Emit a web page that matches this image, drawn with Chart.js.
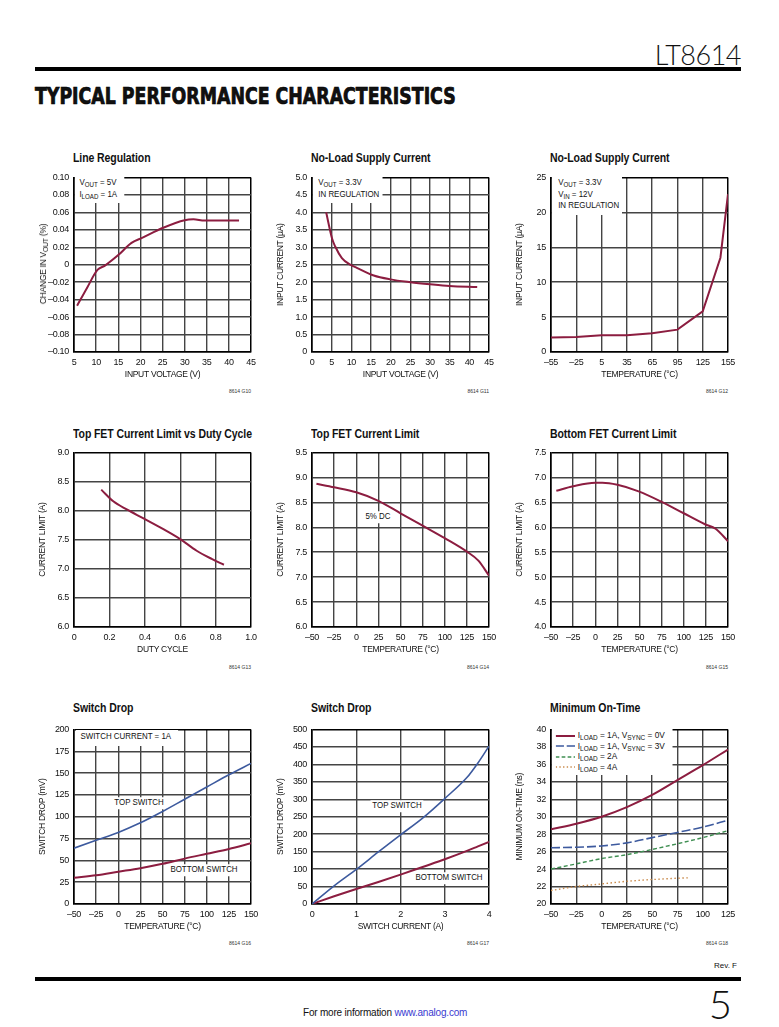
<!DOCTYPE html>
<html>
<head>
<meta charset="utf-8">
<script src="https://cdn.jsdelivr.net/npm/chart.js@4"></script>
<style>
body { margin: 0; background: #fff; }
#page { position: relative; width: 779px; height: 1027px; overflow: hidden; color: #111;
  font-family: "Liberation Sans Narrow", "Liberation Sans", Arial, sans-serif; }
#page canvas { position: absolute; }
.abs { position: absolute; white-space: nowrap; }
.ttl { position: absolute; font-weight: bold; font-size: 12.5px; line-height: 15px; white-space: nowrap;
  transform: scaleX(0.84); transform-origin: 0 0; letter-spacing: -0.1px; }
.note { position: absolute; z-index: 5; font-size: 9px; line-height: 11.5px; background: #fff; white-space: nowrap;
  transform: scaleX(0.88); transform-origin: 0 0; }
.note sub, .ytitle sub { font-size: 7px; vertical-align: -2px; line-height: 0; }
.mid { transform: translate(-50%, -50%) scaleX(0.88); transform-origin: 50% 50%; padding: 0 2px; }
.key { transform: scaleX(0.92); }
.ytitle { position: absolute; z-index: 5; font-size: 8.5px; letter-spacing: -0.3px; white-space: nowrap; transform: translate(-50%, -50%) rotate(-90deg); }
.gid { position: absolute; font-size: 5px; color: #333; text-align: right; width: 40px; }
.rule { position: absolute; left: 35px; width: 706px; height: 4px; background: #000; }
.key svg { vertical-align: middle; margin-right: 3px; }
</style>
</head>
<body>
<div id="page">
  <div class="abs" style="right:38px;top:41px;font-family:Lato,sans-serif;font-weight:300;font-size:27px;line-height:27px;letter-spacing:-0.5px">LT8614</div>
  <div class="rule" style="top:67px"></div>
  <div class="abs" id="heading" style="left:35px;top:83px;font-family:'DejaVu Sans Condensed',sans-serif;font-weight:bold;font-size:23px;line-height:26px;transform-origin:0 0;-webkit-text-stroke:0.7px #000">TYPICAL PERFORMANCE CHARACTERISTICS</div>

  <div class="ttl" style="left:73px;top:151px">Line Regulation</div>
  <div class="ttl" style="left:311px;top:151px">No-Load Supply Current</div>
  <div class="ttl" style="left:550px;top:151px">No-Load Supply Current</div>
  <div class="ttl" style="left:73px;top:427px">Top FET Current Limit vs Duty Cycle</div>
  <div class="ttl" style="left:311px;top:427px">Top FET Current Limit</div>
  <div class="ttl" style="left:550px;top:427px">Bottom FET Current Limit</div>
  <div class="ttl" style="left:73px;top:701px">Switch Drop</div>
  <div class="ttl" style="left:311px;top:701px">Switch Drop</div>
  <div class="ttl" style="left:550px;top:701px">Minimum On-Time</div>

  <div class="ytitle" style="left:43px;top:264px">CHANGE IN V<sub>OUT</sub> (%)</div>

  <div class="note" style="left:75px;top:176px;padding:1px 8px 3px 5px">V<sub>OUT</sub> = 5V<br>I<sub>LOAD</sub> = 1A</div>
  <div class="note" style="left:313px;top:176px;padding:1px 4px 3px 6px">V<sub>OUT</sub> = 3.3V<br>IN REGULATION</div>
  <div class="note" style="left:552px;top:176px;padding:1px 4px 3px 7px">V<sub>OUT</sub> = 3.3V<br>V<sub>IN</sub> = 12V<br>IN REGULATION</div>
  <div class="note mid" style="left:378px;top:517px">5% DC</div>
  <div class="note" style="left:76px;top:730px;padding:1px 8px 3px 5px">SWITCH CURRENT = 1A</div>
  <div class="note mid" style="left:139px;top:803px">TOP SWITCH</div>
  <div class="note mid" style="left:204px;top:870px">BOTTOM SWITCH</div>
  <div class="note mid" style="left:397px;top:806px">TOP SWITCH</div>
  <div class="note mid" style="left:449px;top:878px">BOTTOM SWITCH</div>
  <div class="note key" style="left:552px;top:729px;padding:1px 8px 3px 4px;line-height:10.6px">
    <div><svg width="21" height="6"><line x1="0" y1="3" x2="21" y2="3" stroke="#8c1d40" stroke-width="2"/></svg>I<sub>LOAD</sub> = 1A, V<sub>SYNC</sub> = 0V</div>
    <div><svg width="21" height="6"><line x1="0" y1="3" x2="21" y2="3" stroke="#3d5a9e" stroke-width="1.6" stroke-dasharray="9 3"/></svg>I<sub>LOAD</sub> = 1A, V<sub>SYNC</sub> = 3V</div>
    <div><svg width="21" height="6"><line x1="0" y1="3" x2="21" y2="3" stroke="#3f8f52" stroke-width="1.4" stroke-dasharray="4 2.5"/></svg>I<sub>LOAD</sub> = 2A</div>
    <div><svg width="21" height="6"><line x1="0" y1="3" x2="21" y2="3" stroke="#c98a4b" stroke-width="1.4" stroke-dasharray="1.5 2.5"/></svg>I<sub>LOAD</sub> = 4A</div>
  </div>

  <div class="gid" style="left:211px;top:388px">8614 G10</div>
  <div class="gid" style="left:449px;top:388px">8614 G11</div>
  <div class="gid" style="left:688px;top:388px">8614 G12</div>
  <div class="gid" style="left:211px;top:664px">8614 G13</div>
  <div class="gid" style="left:449px;top:664px">8614 G14</div>
  <div class="gid" style="left:688px;top:664px">8614 G15</div>
  <div class="gid" style="left:211px;top:940px">8614 G16</div>
  <div class="gid" style="left:449px;top:940px">8614 G17</div>
  <div class="gid" style="left:688px;top:940px">8614 G18</div>

  <div class="abs" style="right:42px;top:961px;font-size:8px">Rev. F</div>
  <div class="rule" style="top:977px"></div>
  <div class="abs" style="right:47px;top:984px;font-family:Lato,sans-serif;font-weight:300;font-size:40px;line-height:40px">5</div>
  <div class="abs" style="left:303px;top:1007px;font-size:10px;letter-spacing:-0.2px">For more information <span style="color:#3a3ad0">www.analog.com</span></div>
</div>

<script>
// ---- data ----
// Line Regulation
const lineRegVin = [5.7, 8, 10.3, 12, 15, 18, 20.5, 25, 30, 32, 34.5, 38, 42.3];
const lineRegChange = [-0.047, -0.026, -0.006, -0.001, 0.011, 0.025, 0.031, 0.042, 0.051, 0.052, 0.0505, 0.0505, 0.0505];
// No-Load Supply Current vs input voltage
const noLoadVin = [3.6, 5.1, 5.9, 7.6, 9.7, 11.4, 15.7, 19.9, 25, 30, 35, 42];
const noLoadCurrent = [4.0, 3.25, 3.02, 2.69, 2.5, 2.41, 2.19, 2.08, 2.0, 1.94, 1.89, 1.86];
// No-Load Supply Current vs temperature
const noLoadTemp = [-55, -25, 5, 35, 65, 95, 125, 146, 155];
const noLoadTempCurrent = [2.07, 2.16, 2.4, 2.4, 2.68, 3.2, 5.83, 13.5, 22.6];
// Top FET current limit vs duty cycle
const dutyCycle = [0.154, 0.222, 0.298, 0.39, 0.505, 0.6, 0.693, 0.778, 0.847];
const dutyLimit = [8.36, 8.16, 8.02, 7.87, 7.68, 7.51, 7.31, 7.17, 7.07];
// Top FET current limit vs temperature
const topFetTemp = [-45, -25, 0, 25, 50, 75, 100, 125, 138, 150];
const topFetLimit = [8.87, 8.80, 8.70, 8.53, 8.28, 8.03, 7.78, 7.51, 7.33, 7.03];
// Bottom FET current limit vs temperature
const botFetTemp = [-44, -25, 0, 8, 25, 49, 75, 100, 124, 136, 150];
const botFetLimit = [6.73, 6.82, 6.89, 6.89, 6.85, 6.72, 6.51, 6.28, 6.06, 5.97, 5.72];
// Switch drop vs temperature (1A)
const dropTemp = [-50, -25, 0, 25, 50, 75, 100, 125, 150];
const dropTopTemp = [64, 73, 82, 93, 106, 120, 134, 148, 161];
const dropBotTemp = [30, 33, 37, 41, 46, 52, 57.5, 63, 69.5];
// Switch drop vs switch current
const switchCurrent = [0, 0.5, 1, 1.5, 2, 2.5, 3, 3.5, 3.75, 4];
const dropTopCurrent = [0, 52, 99, 149, 198, 246, 302, 362, 404, 452];
const dropBotCurrent = [0, 22, 43, 63, 84, 106, 128, 152, 165, 178];
// Minimum on-time
const onTimeTemp = [-50, -25, 0, 25, 50, 75, 100, 125];
const onTime1ASync0 = [28.55, 29.2, 30.0, 31.1, 32.5, 34.2, 35.9, 37.7];
const onTime1ASync3 = [26.45, 26.5, 26.65, 27.0, 27.6, 28.2, 28.8, 29.6];
const onTime2A = [24.0, 24.6, 25.2, 25.65, 26.25, 26.9, 27.6, 28.4];
const onTime4ATemp = [-50, -25, 0, 25, 50, 75, 86];
const onTime4A = [21.55, 22.0, 22.3, 22.6, 22.8, 22.95, 23.0];

// ---- tick labels ----
const lineRegXLabels = ['5', '10', '15', '20', '25', '30', '35', '40', '45'];
const lineRegYLabels = ['\u20130.10', '\u20130.08', '\u20130.06', '\u20130.04', '\u20130.02', '0', '0.02', '0.04', '0.06', '0.08', '0.10'];
const vinLabels = ['0', '5', '10', '15', '20', '25', '30', '35', '40', '45'];
const noLoadYLabels = ['0', '0.5', '1.0', '1.5', '2.0', '2.5', '3.0', '3.5', '4.0', '4.5', '5.0'];
const wideTempLabels = ['\u201355', '\u201325', '5', '35', '65', '95', '125', '155'];
const noLoadTempYLabels = ['0', '5', '10', '15', '20', '25'];
const dutyLabels = ['0', '0.2', '0.4', '0.6', '0.8', '1.0'];
const dutyYLabels = ['6.0', '6.5', '7.0', '7.5', '8.0', '8.5', '9.0'];
const tempLabels = ['\u201350', '\u201325', '0', '25', '50', '75', '100', '125', '150'];
const topFetYLabels = ['6.0', '6.5', '7.0', '7.5', '8.0', '8.5', '9.0', '9.5'];
const botFetYLabels = ['4.0', '4.5', '5.0', '5.5', '6.0', '6.5', '7.0', '7.5'];
const dropTempYLabels = ['0', '25', '50', '75', '100', '125', '150', '175', '200'];
const currentLabels = ['0', '1', '2', '3', '4'];
const dropCurrentYLabels = ['0', '50', '100', '150', '200', '250', '300', '350', '400', '450', '500'];
const onTimeXLabels = ['\u201350', '\u201325', '0', '25', '50', '75', '100', '125'];
const onTimeYLabels = ['20', '22', '24', '26', '28', '30', '32', '34', '36', '38', '40'];

const RED = '#8c1d40', BLUE = '#3d5a9e', GREEN = '#3f8f52', ORANGE = '#c98a4b';

Chart.defaults.font.family = '"Liberation Sans Narrow", "Liberation Sans", Arial, sans-serif';
Chart.defaults.color = '#111';

// narrower lettering, closer to the datasheet's condensed face
Chart.register({
    id: 'tightText',
    beforeDraw: chart => { chart.ctx.letterSpacing = '-0.3px'; }
});

const PLOT = 177, AX_L = 40, AX_B = 30, PAD_T = 8, PAD_R = 14;
const num = s => parseFloat(s.replace('\u2013', '-'));

function axis(labels, title, horizontal) {
    const values = labels.map(num);
    const last = values.length - 1;
    const edge = c => c.index === 0 || c.index === last;
    return {
        type: 'linear',
        min: values[0],
        max: values[last],
        afterBuildTicks: s => { s.ticks = values.map(v => ({ value: v })); },
        afterFit: s => { if (horizontal) s.height = AX_B; else s.width = AX_L; },
        ticks: { autoSkip: false, maxRotation: 0, padding: 5, font: { size: 9 }, color: '#111',
                 callback: (v, i) => labels[i] },
        grid: { drawTicks: false, color: c => edge(c) ? '#000' : '#444', lineWidth: c => edge(c) ? 1.5 : 1.4 },
        border: { display: true, color: '#000', width: 1.5 },
        title: { display: !!title, text: title || '', font: { size: 8.5 }, color: '#111',
                 padding: horizontal ? { top: 0, bottom: 2 } : { top: 4, bottom: 0 } }
    };
}

function series(xs, ys, color, width, dash, straight) {
    return {
        data: xs.map((x, i) => ({ x: x, y: ys[i] })),
        borderColor: color,
        borderWidth: width,
        borderDash: dash || [],
        pointRadius: 0,
        fill: false,
        tension: straight ? 0 : 0.4,
        cubicInterpolationMode: straight ? 'default' : 'monotone'
    };
}

function plot(left, top, xLabels, yLabels, xTitle, yTitle, datasets) {
    const canvas = document.createElement('canvas');
    canvas.width = AX_L + PLOT + PAD_R;
    canvas.height = PAD_T + PLOT + AX_B;
    canvas.style.left = (left - AX_L) + 'px';
    canvas.style.top = (top - PAD_T) + 'px';
    document.getElementById('page').appendChild(canvas);
    new Chart(canvas.getContext('2d'), {
        type: 'line',
        data: { datasets: datasets },
        options: {
            responsive: false,
            animation: false,
            devicePixelRatio: 1,
            layout: { padding: { top: PAD_T, right: PAD_R, left: 0, bottom: 0 } },
            plugins: { legend: { display: false }, tooltip: { enabled: false } },
            scales: { x: axis(xLabels, xTitle, true), y: axis(yLabels, yTitle, false) }
        }
    });
}

plot(74, 175, lineRegXLabels, lineRegYLabels, 'INPUT VOLTAGE (V)', null,
    [series(lineRegVin, lineRegChange, RED, 2)]);
plot(312, 175, vinLabels, noLoadYLabels, 'INPUT VOLTAGE (V)', 'INPUT CURRENT (\u00b5A)',
    [series(noLoadVin, noLoadCurrent, RED, 2)]);
plot(551, 175, wideTempLabels, noLoadTempYLabels, 'TEMPERATURE (\u00b0C)', 'INPUT CURRENT (\u00b5A)',
    [series(noLoadTemp, noLoadTempCurrent, RED, 2, null, true)]);

plot(74, 450, dutyLabels, dutyYLabels, 'DUTY CYCLE', 'CURRENT LIMIT (A)',
    [series(dutyCycle, dutyLimit, RED, 2)]);
plot(312, 450, tempLabels, topFetYLabels, 'TEMPERATURE (\u00b0C)', 'CURRENT LIMIT (A)',
    [series(topFetTemp, topFetLimit, RED, 2)]);
plot(551, 450, tempLabels, botFetYLabels, 'TEMPERATURE (\u00b0C)', 'CURRENT LIMIT (A)',
    [series(botFetTemp, botFetLimit, RED, 2)]);

plot(74, 727, tempLabels, dropTempYLabels, 'TEMPERATURE (\u00b0C)', 'SWITCH DROP (mV)',
    [series(dropTemp, dropTopTemp, BLUE, 1.6), series(dropTemp, dropBotTemp, RED, 2)]);
plot(312, 727, currentLabels, dropCurrentYLabels, 'SWITCH CURRENT (A)', 'SWITCH DROP (mV)',
    [series(switchCurrent, dropTopCurrent, BLUE, 1.6), series(switchCurrent, dropBotCurrent, RED, 2)]);
plot(551, 727, onTimeXLabels, onTimeYLabels, 'TEMPERATURE (\u00b0C)', 'MINIMUM ON-TIME (ns)',
    [series(onTimeTemp, onTime1ASync0, RED, 2),
     series(onTimeTemp, onTime1ASync3, BLUE, 1.6, [9, 3]),
     series(onTimeTemp, onTime2A, GREEN, 1.4, [4, 2.5]),
     series(onTime4ATemp, onTime4A, ORANGE, 1.4, [1.5, 2.5])]);

// stretch the section heading to the width it has in the datasheet
const heading = document.getElementById('heading');
heading.style.transform = 'scaleX(' + (421 / heading.offsetWidth) + ')';
</script>
</body>
</html>
